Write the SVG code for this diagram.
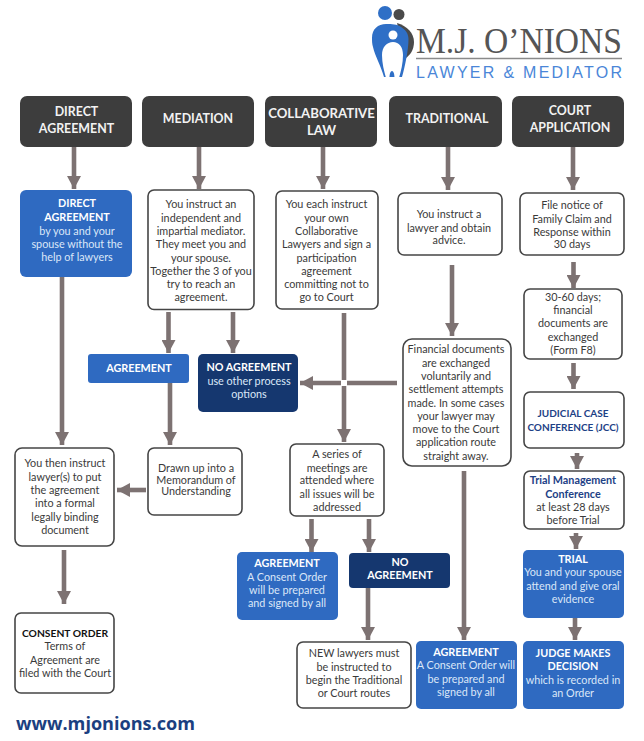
<svg xmlns="http://www.w3.org/2000/svg" width="644" height="741" viewBox="0 0 644 741">
<defs>
<marker id="ah" markerUnits="userSpaceOnUse" markerWidth="14" markerHeight="14" refX="13" refY="7" orient="auto"><path d="M0 0L13 7L0 14Z" fill="#7d7272"/></marker>
</defs>
<style>
text{font-family:"Lato","Open Sans","Liberation Sans",sans-serif;text-anchor:middle;font-size:10.8px;fill:#3a3a3a}
.hd rect{fill:#3d3d3d}
.hd text{fill:#f2f2f2;font-size:12.4px;font-weight:700}
#h-collab text{font-size:13.2px}
.wb rect{fill:#fff;stroke:#454545;stroke-width:1.6}
.bl rect{fill:#2f6ac1}
.nv rect{fill:#15376f}
.bl text,.nv text{fill:#dbe7f8}
text.b{font-weight:700;fill:#fff}
text.k{font-weight:700;fill:#111}
text.n{font-weight:700;fill:#1d4186}
#connectors line{stroke:#7d7272;stroke-width:4.6;fill:none}
</style>
<rect width="644" height="741" fill="#fff"/>
<g id="logo">
<path d="M397 23C407 26 414 33 414 42C414 50 410 55 406 58L401 40Z" fill="#4a4a4a"/>
<circle cx="399" cy="14.500" r="5.500" fill="#4a4a4a"/>
<circle cx="385" cy="13" r="7" fill="#2f6fc6"/>
<path d="M372 38C372 29 378 24 386 24C392 24 397 24 401 27C406 30 408.500 34 408.500 39C408.500 50 405 66 402 77H384C381 66 375 56 373 47C372 44 372 41 372 38Z" fill="#2f6fc6"/>
<circle cx="393" cy="35" r="4.500" fill="#fff"/>
<path d="M382 55C382 47 387 42 393 42C399 42 403 47 403 55C403 63 401 71 399 78H394.500C394.500 74 393.500 71 392 71C390.500 71 389.500 74 389.500 78H386C384 71 382 63 382 55Z" fill="#fff"/>
<text x="519" y="52.500" style="font-family:'Liberation Serif',serif;font-size:35px;fill:#555" textLength="206" lengthAdjust="spacingAndGlyphs">M.J. O’NIONS</text>
<line x1="416" y1="58.500" x2="622" y2="58.500" stroke="#8a8a8a" stroke-width="1.300"/>
<text x="519" y="77.500" style="font-family:'Liberation Sans',sans-serif;font-size:16px;fill:#4a86d8" textLength="206">LAWYER &amp; MEDIATOR</text>
</g>
<g id="connectors">
<line x1="74" y1="147" x2="74" y2="189" marker-end="url(#ah)"/>
<line x1="199" y1="147" x2="199" y2="189" marker-end="url(#ah)"/>
<line x1="323" y1="147" x2="323" y2="189" marker-end="url(#ah)"/>
<line x1="448" y1="147" x2="448" y2="190" marker-end="url(#ah)"/>
<line x1="573" y1="147" x2="573" y2="190" marker-end="url(#ah)"/>
<line x1="573.500" y1="262" x2="573.500" y2="288" marker-end="url(#ah)"/>
<line x1="573.500" y1="363" x2="573.500" y2="389" marker-end="url(#ah)"/>
<line x1="577" y1="453" x2="577" y2="469" marker-end="url(#ah)"/>
<line x1="576" y1="533" x2="576" y2="549" marker-end="url(#ah)"/>
<line x1="575" y1="618" x2="575" y2="640" marker-end="url(#ah)"/>
<line x1="452" y1="265" x2="452" y2="336" marker-end="url(#ah)"/>
<line x1="464" y1="471" x2="464" y2="640" marker-end="url(#ah)"/>
<line x1="344" y1="313" x2="344" y2="380"/>
<line x1="344" y1="386" x2="344" y2="442" marker-end="url(#ah)"/>
<line x1="397" y1="383" x2="347" y2="383"/>
<line x1="341" y1="383" x2="300" y2="383" marker-end="url(#ah)"/>
<line x1="168.500" y1="312" x2="168.500" y2="353" marker-end="url(#ah)"/>
<line x1="233" y1="312" x2="233" y2="353" marker-end="url(#ah)"/>
<line x1="170" y1="383" x2="170" y2="445" marker-end="url(#ah)"/>
<line x1="62" y1="277" x2="62" y2="445" marker-end="url(#ah)"/>
<line x1="146" y1="490" x2="117" y2="490" marker-end="url(#ah)"/>
<line x1="64" y1="550" x2="64" y2="604" marker-end="url(#ah)"/>
<line x1="311.500" y1="519" x2="311.500" y2="552" marker-end="url(#ah)"/>
<line x1="369" y1="519" x2="369" y2="552" marker-end="url(#ah)"/>
<line x1="368" y1="588" x2="368" y2="640" marker-end="url(#ah)"/>
</g>
<g id="h-direct" class="hd"><rect x="20" y="96" width="112" height="51" rx="7"/><text x="76.500" y="116">DIRECT</text><text x="76.500" y="133">AGREEMENT</text></g>
<g id="h-mediation" class="hd"><rect x="142" y="96" width="112" height="51" rx="7"/><text x="198" y="123">MEDIATION</text></g>
<g id="h-collab" class="hd"><rect x="265" y="96" width="112" height="51" rx="7"/><text x="321.500" y="118">COLLABORATIVE</text><text x="321.500" y="135">LAW</text></g>
<g id="h-traditional" class="hd"><rect x="389" y="96" width="113" height="51" rx="7"/><text x="447" y="123">TRADITIONAL</text></g>
<g id="h-court" class="hd"><rect x="512" y="96" width="112" height="51" rx="7"/><text x="570" y="115">COURT</text><text x="570" y="132">APPLICATION</text></g>
<g id="n-direct" class="bl"><rect x="20" y="190" width="112" height="87" rx="6"/><text class="b" x="77" y="207">DIRECT</text><text class="b" x="77" y="221">AGREEMENT</text><text x="77" y="235">by you and your</text><text x="77" y="248">spouse without the</text><text x="77" y="261">help of lawyers</text></g>
<g id="n-mediator" class="wb"><rect x="148" y="190" width="106" height="119.500" rx="6"/><text x="201" y="208">You instruct an</text><text x="201" y="221.500">independent and</text><text x="201" y="234.500">impartial mediator.</text><text x="201" y="248">They meet you and</text><text x="201" y="261.500">your spouse.</text><text x="201" y="274.500">Together the 3 of you</text><text x="201" y="288">try to reach an</text><text x="201" y="301">agreement.</text></g>
<g id="n-collab" class="wb"><rect x="276" y="191" width="102" height="118" rx="6"/><text x="326.500" y="208">You each instruct</text><text x="326.500" y="221.500">your own</text><text x="326.500" y="234.500">Collaborative</text><text x="326.500" y="248">Lawyers and sign a</text><text x="326.500" y="261.500">participation</text><text x="326.500" y="274.500">agreement</text><text x="326.500" y="288">committing not to</text><text x="326.500" y="301">go to Court</text></g>
<g id="n-advice" class="wb"><rect x="398" y="193" width="104" height="62" rx="6"/><text x="449" y="218">You instruct a</text><text x="449" y="232">lawyer and obtain</text><text x="449" y="244">advice.</text></g>
<g id="n-file" class="wb"><rect x="520" y="193" width="104" height="62" rx="6"/><text x="572" y="209">File notice of</text><text x="572" y="222.500">Family Claim and</text><text x="572" y="235.500">Response within</text><text x="572" y="248">30 days</text></g>
<g id="n-3060" class="wb"><rect x="524" y="289" width="98" height="70" rx="6"/><text x="573" y="301">30-60 days;</text><text x="573" y="314">financial</text><text x="573" y="327">documents are</text><text x="573" y="341">exchanged</text><text x="573" y="354">(Form F8)</text></g>
<g id="n-financial" class="wb"><rect x="403" y="339" width="108" height="127" rx="9"/><text x="456" y="353">Financial documents</text><text x="456" y="366.500">are exchanged</text><text x="456" y="379.500">voluntarily and</text><text x="456" y="393">settlement attempts</text><text x="456" y="406.500">made. In some cases</text><text x="456" y="420">your lawyer may</text><text x="456" y="433">move to the Court</text><text x="456" y="446">application route</text><text x="456" y="459.500">straight away.</text></g>
<g id="n-jcc" class="wb"><rect x="524" y="392" width="100" height="56" rx="6"/><text class="n" x="573" y="417" style="font-size:10px">JUDICIAL CASE</text><text class="n" x="573" y="431" style="font-size:10px">CONFERENCE (JCC)</text></g>
<g id="n-tmc" class="wb"><rect x="524" y="471" width="100" height="58" rx="6"/><text class="n" x="573" y="484">Trial Management</text><text class="n" x="573" y="498">Conference</text><text x="573" y="511">at least 28 days</text><text x="573" y="524">before Trial</text></g>
<g id="n-trial" class="bl"><rect x="523" y="550" width="101" height="68" rx="5"/><text class="b" x="573" y="563">TRIAL</text><text x="573" y="576">You and your spouse</text><text x="573" y="590">attend and give oral</text><text x="573" y="603">evidence</text></g>
<g id="n-judge" class="bl"><rect x="523" y="641" width="101" height="68" rx="5"/><text class="b" x="573" y="657">JUDGE MAKES</text><text class="b" x="573" y="670">DECISION</text><text x="573" y="683.500">which is recorded in</text><text x="573" y="697">an Order</text></g>
<g id="n-agree3" class="bl"><rect x="416" y="641" width="101" height="68" rx="5"/><text class="b" x="466" y="656">AGREEMENT</text><text x="466" y="669">A Consent Order will</text><text x="466" y="683">be prepared and</text><text x="466" y="696">signed by all</text></g>
<g id="n-noagree2" class="nv"><rect x="349" y="553" width="101" height="35" rx="4"/><text class="b" x="400" y="566">NO</text><text class="b" x="400" y="579">AGREEMENT</text></g>
<g id="n-new" class="wb"><rect x="297" y="642" width="114" height="66" rx="6"/><text x="354" y="657">NEW lawyers must</text><text x="354" y="670.500">be instructed to</text><text x="354" y="683.500">begin  the Traditional</text><text x="354" y="697">or Court routes</text></g>
<g id="n-series" class="wb"><rect x="290" y="444" width="94" height="72" rx="6"/><text x="337" y="458">A series of</text><text x="337" y="471.500">meetings are</text><text x="337" y="484">attended where</text><text x="337" y="498">all issues will be</text><text x="337" y="511">addressed</text></g>
<g id="n-agree2" class="bl"><rect x="237" y="552" width="101" height="68" rx="5"/><text class="b" x="287" y="567">AGREEMENT</text><text x="287" y="581">A Consent Order</text><text x="287" y="594">will be prepared</text><text x="287" y="607">and signed by all</text></g>
<g id="n-consent" class="wb"><rect x="15" y="613" width="99" height="80" rx="6"/><text class="k" x="65" y="637" style="font-size:10.300px">CONSENT ORDER</text><text x="65" y="650">Terms of</text><text x="65" y="664">Agreement are</text><text x="65" y="677">filed with the Court</text></g>
<g id="n-then" class="wb"><rect x="15" y="448" width="99" height="98" rx="7"/><text x="65" y="467">You then instruct</text><text x="65" y="480.500">lawyer(s) to put</text><text x="65" y="494">the agreement</text><text x="65" y="507">into a formal</text><text x="65" y="520.500">legally binding</text><text x="65" y="534">document</text></g>
<g id="n-memo" class="wb"><rect x="148" y="448" width="94" height="67" rx="6"/><text x="196" y="472">Drawn up into a</text><text x="196" y="483.500">Memorandum of</text><text x="196" y="495">Understanding</text></g>
<g id="n-agree1" class="bl"><rect x="88" y="354" width="101" height="29" rx="3"/><text class="b" x="139" y="372">AGREEMENT</text></g>
<g id="n-noagree1" class="nv"><rect x="198" y="354" width="100" height="58" rx="5"/><text class="b" x="249" y="371">NO AGREEMENT</text><text x="249" y="385">use other process</text><text x="249" y="398">options</text></g>
<text id="url" x="16" y="730" style="text-anchor:start;font-family:'Open Sans',sans-serif;font-weight:700;font-size:18.100px;fill:#1b3f80">www.mjonions.com</text>
</svg>
